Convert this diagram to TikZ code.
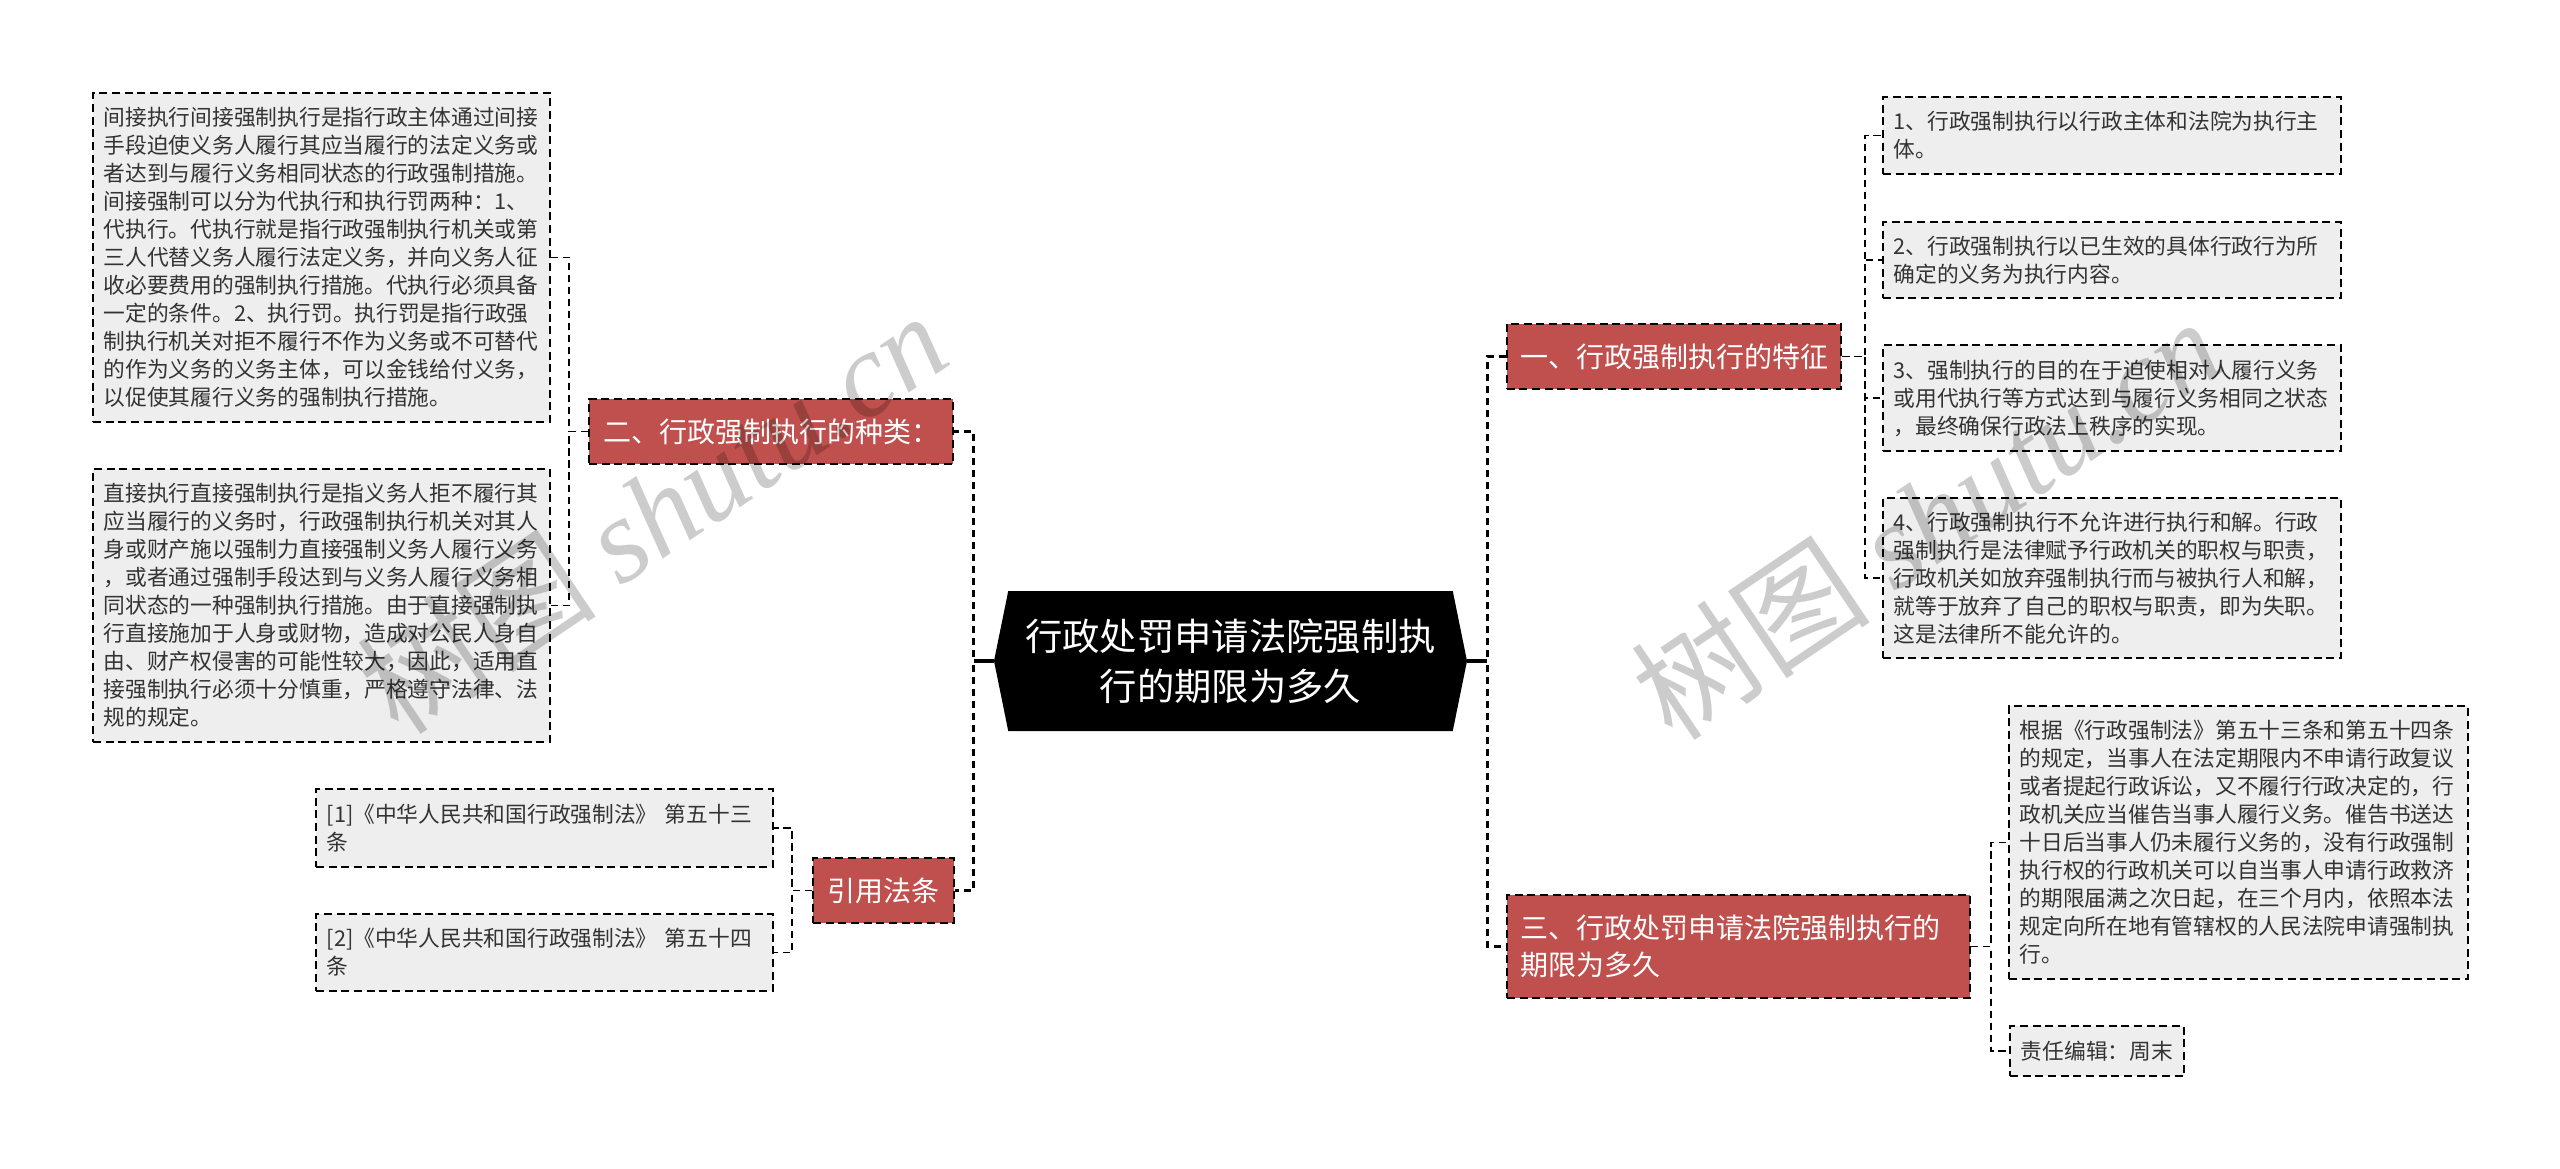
\documentclass[tikz,border=0pt]{standalone}
\usepackage{fontspec}
\setmainfont{Noto Sans CJK SC}
\newfontfamily\wmlatin{Liberation Serif}
\usetikzlibrary{shapes.symbols}

\definecolor{topicred}{RGB}{192,80,77}
\definecolor{leafgray}{RGB}{238,238,238}
\definecolor{leafink}{RGB}{51,51,51}

\tikzset{
  leaf/.style={draw,line width=1.3pt,dash pattern=on 6pt off 3.5pt,
    fill=leafgray,text=leafink,inner xsep=8pt,inner ysep=0pt,align=left,
    font=\fontsize{16.3pt}{21pt}\selectfont},
  topic/.style={draw,line width=1.3pt,dash pattern=on 6pt off 3.5pt,
    fill=topicred,text=white,inner xsep=10pt,inner ysep=0pt,
    font=\fontsize{21pt}{28pt}\selectfont},
  trunk/.style={line width=2.4pt,dash pattern=on 5.5pt off 3.5pt},
  link/.style={line width=1.3pt,dash pattern=on 5.5pt off 3.5pt},
  wmark/.style={text=black,opacity=0.2,font=\fontsize{90pt}{96pt}\selectfont}
}

\begin{document}
\begin{tikzpicture}[x=0.75pt,y=-0.75pt]
\useasboundingbox (0,0) rectangle (2560,1169);

%% ---------------- root ----------------
\node[shape=signal,signal to=west and east,signal pointer angle=157,
      fill=black,text=white,align=center,inner sep=0pt,
      minimum width=354.75pt,minimum height=105pt,
      font=\fontsize{28pt}{37.5pt}\selectfont] (root) at (1230.5,661)
  {行政处罚申请法院强制执\\行的期限为多久};

%% ---------------- left branch ----------------
\node[topic,minimum width=273pt,minimum height=48.75pt] (kinds) at (771,431.5)
  {二、行政强制执行的种类：};
\node[topic,minimum width=105.75pt,minimum height=48.75pt] (cite) at (883.5,890.5)
  {引用法条};

\node[leaf,text width=326.75pt,minimum height=246.75pt] (indirect) at (321.5,257.5)
  {间接执行间接强制执行是指行政主体通过间接\\
   手段迫使义务人履行其应当履行的法定义务或\\
   者达到与履行义务相同状态的行政强制措施。\\
   间接强制可以分为代执行和执行罚两种：1、\\
   代执行。代执行就是指行政强制执行机关或第\\
   三人代替义务人履行法定义务，并向义务人征\\
   收必要费用的强制执行措施。代执行必须具备\\
   一定的条件。2、执行罚。执行罚是指行政强\\
   制执行机关对拒不履行不作为义务或不可替代\\
   的作为义务的义务主体，可以金钱给付义务，\\
   以促使其履行义务的强制执行措施。};
\node[leaf,text width=326.75pt,minimum height=204.75pt] (direct) at (321.5,605.5)
  {直接执行直接强制执行是指义务人拒不履行其\\
   应当履行的义务时，行政强制执行机关对其人\\
   身或财产施以强制力直接强制义务人履行义务\\
   ，或者通过强制手段达到与义务人履行义务相\\
   同状态的一种强制执行措施。由于直接强制执\\
   行直接施加于人身或财物，造成对公民人身自\\
   由、财产权侵害的可能性较大，因此，适用直\\
   接强制执行必须十分慎重，严格遵守法律、法\\
   规的规定。};
\node[leaf,text width=326.75pt,minimum height=58.5pt] (ref1) at (544.5,828)
  {[1]《中华人民共和国行政强制法》 第五十三\\条};
\node[leaf,text width=326.75pt,minimum height=58pt] (ref2) at (544.5,952.5)
  {[2]《中华人民共和国行政强制法》 第五十四\\条};

%% ---------------- right branch ----------------
\node[topic,minimum width=250.5pt,minimum height=48.75pt] (traits) at (1674,356.5)
  {一、行政强制执行的特征};
\node[topic,text width=327.25pt,align=left,minimum height=77.25pt] (limit) at (1738.5,946.5)
  {三、行政处罚申请法院强制执行的\\期限为多久};

\node[leaf,text width=327.5pt,minimum height=57.75pt] (trait1) at (2112,135.5)
  {1、行政强制执行以行政主体和法院为执行主\\体。};
\node[leaf,text width=327.5pt,minimum height=57pt] (trait2) at (2112,260)
  {2、行政强制执行以已生效的具体行政行为所\\确定的义务为执行内容。};
\node[leaf,text width=327.5pt,minimum height=79.5pt] (trait3) at (2112,398)
  {3、强制执行的目的在于迫使相对人履行义务\\
   或用代执行等方式达到与履行义务相同之状态\\
   ，最终确保行政法上秩序的实现。};
\node[leaf,text width=327.5pt,minimum height=120pt] (trait4) at (2112,578)
  {4、行政强制执行不允许进行执行和解。行政\\
   强制执行是法律赋予行政机关的职权与职责，\\
   行政机关如放弃强制执行而与被执行人和解，\\
   就等于放弃了自己的职权与职责，即为失职。\\
   这是法律所不能允许的。};

\node[leaf,text width=328.25pt,minimum height=204.75pt] (rule) at (2238.5,842.5)
  {根据《行政强制法》第五十三条和第五十四条\\
   的规定，当事人在法定期限内不申请行政复议\\
   或者提起行政诉讼，又不履行行政决定的，行\\
   政机关应当催告当事人履行义务。催告书送达\\
   十日后当事人仍未履行义务的，没有行政强制\\
   执行权的行政机关可以自当事人申请行政救济\\
   的期限届满之次日起，在三个月内，依照本法\\
   规定向所在地有管辖权的人民法院申请强制执\\
   行。};
\node[leaf,minimum width=130.5pt,minimum height=37.5pt,anchor=west] (editor) at (2009,1051)
  {责任编辑：周末};

%% ---------------- connectors ----------------
\draw[line width=2.4pt] (root.west) -- ++(-20,0);
\draw[line width=2.4pt] (root.east) -- ++(20,0);
\draw[trunk] (root.west) -- ++(-20,0) |- (kinds.east);
\draw[trunk] (root.west) -- ++(-20,0) |- (cite.east);
\draw[trunk] (root.east) -- ++(20,0) |- (traits.west);
\draw[trunk] (root.east) -- ++(20,0) |- (limit.west);

\foreach \kid in {indirect,direct}
  \draw[link] (kinds.west) -- ++(-19,0) |- (\kid.east);
\foreach \kid in {ref1,ref2}
  \draw[link] (cite.west) -- ++(-20,0) |- (\kid.east);
\foreach \kid in {trait1,trait2,trait3,trait4}
  \draw[link] (traits.east) -- ++(23,0) |- (\kid.west);
\foreach \kid in {rule,editor}
  \draw[link] (limit.east) -- ++(20,0) |- (\kid.west);

%% ---------------- watermarks ----------------
\node[wmark,rotate=34] (wmleft) at (652,512) {树图 {\wmlatin\itshape shutu.cn}};
\node[wmark,rotate=34] (wmright) at (1926,518) {树图 {\wmlatin\itshape shutu.cn}};

\end{tikzpicture}
\end{document}
